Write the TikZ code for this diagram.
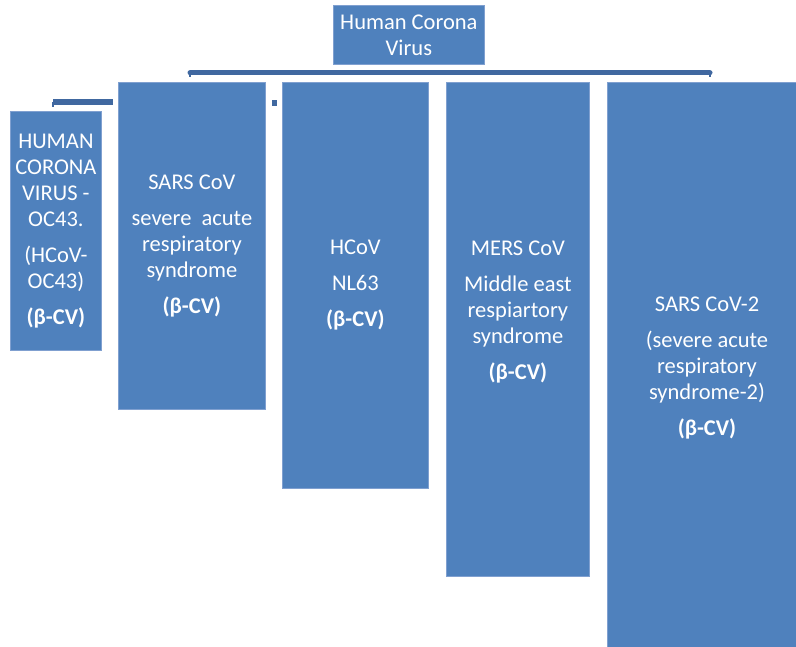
\documentclass[tikz,border=0pt]{standalone}
\usepackage{fontspec}
\setmainfont{Carlito}
\definecolor{boxblue}{RGB}{79,129,189}
\definecolor{boxedge}{RGB}{128,160,208}
\definecolor{barblue}{RGB}{64,104,160}

\begin{document}
\begin{tikzpicture}[x=1pt, y=-1pt,
  virus/.style={draw=boxedge, line width=0.8pt, fill=boxblue, anchor=north west, inner sep=0pt},
  vtext/.style={text=white, align=center, font=\fontsize{22.5}{26}\selectfont, inner sep=0pt},
  bar/.style={draw=barblue, line width=5pt}]

\useasboundingbox (0,0) rectangle (796,647);

% title box
\node[virus, minimum width=151pt, minimum height=59pt] (root) at (333,5) {};
\node[vtext] (roottext) at (root.center) {Human Corona\\Virus};

% the two bars under the title
\coordinate (barAw) at (190,73);
\coordinate (barAe) at (710,73);
\draw[bar, line cap=round] (barAw) -- (barAe);
\draw[barblue, line width=2pt] (barAw) -- ++(0,4);
\draw[barblue, line width=2pt] (barAe) -- ++(0,4);

\coordinate (barBw) at (53,102.5);
\coordinate (barBe) at (113,102.5);
\draw[bar, line width=6pt] (barBw) -- (barBe);
\draw[barblue, line width=2pt] (barBw) -- ++(0,4.5);
\fill[barblue] (272,100) rectangle (277,106);

% virus boxes
\node[virus, minimum width=91pt, minimum height=239pt] (oc43) at (10,111) {};
\node[virus, minimum width=147pt, minimum height=327pt] (sars) at (118,82) {};
\node[virus, minimum width=146pt, minimum height=406pt] (nl63) at (282,82) {};
\node[virus, minimum width=143pt, minimum height=494pt] (mers) at (446,82) {};
\node[virus, minimum width=192pt, minimum height=570pt] (sars2) at (607,82) {};

% texts
\node[vtext] (oc43text) at (oc43.center) {HUMAN\\CORONA\\VIRUS -\\OC43.\\[10pt](HCoV-\\OC43)\\[10pt]\textbf{(β-CV)}};
\node[vtext] (sarstext) at (sars.center) {SARS CoV\\[10pt]severe\ \ acute\\respiratory\\syndrome\\[10pt]\textbf{(β-CV)}};
\node[vtext] (nl63text) at (nl63.center) {HCoV\\[10pt]NL63\\[10pt]\textbf{(β-CV)}};
\node[vtext] (merstext) at ([yshift=17pt]mers.center) {MERS CoV\\[10pt]Middle east\\respiartory\\syndrome\\[10pt]\textbf{(β-CV)}};
\node[vtext] (sars2text) at (707,368) {SARS CoV-2\\[10pt](severe acute\\respiratory\\syndrome-2)\\[10pt]\textbf{(β-CV)}};

\end{tikzpicture}
\end{document}
